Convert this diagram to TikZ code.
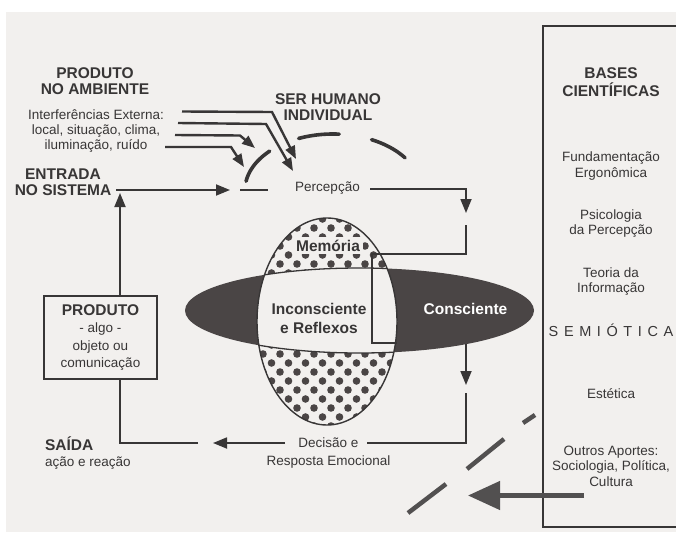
\documentclass[tikz,border=0pt]{standalone}
\usepackage{fontspec}
\setmainfont{Liberation Sans}
\usetikzlibrary{arrows.meta}

\definecolor{paper}{HTML}{F2F0EE}
\definecolor{ink}{HTML}{383636}
\definecolor{darkfill}{HTML}{4A4545}
\definecolor{slashgray}{HTML}{525050}

\begin{document}
\begin{tikzpicture}[x=1pt,y=-1pt,
  every node/.style={inner sep=0pt, outer sep=0pt, text=ink},
  txt/.style={font=\fontsize{13.5}{15.5}\selectfont, align=center},
  ttl/.style={font=\fontsize{15.5}{16.5}\selectfont\bfseries, align=center},
  conn/.style={draw=ink, line width=1.8pt},
  arr/.style={conn, -{Triangle[length=14pt,width=11pt]}},
  iarr/.style={draw=ink, line width=2.4pt, -{Triangle[length=13pt,width=10pt]}},
  arcdash/.style={draw=ink, line width=3.6pt, line cap=round},
  slash/.style={draw=slashgray, line width=4.5pt},
]
% page and paper
\useasboundingbox (0,0) rectangle (676,532);
\fill[white] (0,0) rectangle (676,532);
\fill[paper] (6,12) rectangle (676,532);

% ---------- central figure: conscious / unconscious ----------
\fill[darkfill] (359.5,310.5) ellipse [x radius=174.5, y radius=42.5];
\begin{scope}
  \clip (327,321.5) ellipse [x radius=70, y radius=103.5];
  \fill[paper] (250,210) rectangle (400,430);
  \foreach \j in {-17,...,7} {
    \foreach \i in {-3,...,9} {
      \fill[darkfill] ({271.5+17*\i+8.5*mod(abs(\j),2)},{363+9*\j}) circle (3.8);
    }
  }
  \fill[paper] (359.5,310.5) ellipse [x radius=174.5, y radius=42.5];
  \draw[ink, line width=1.3pt] (359.5,310.5) ellipse [x radius=174.5, y radius=42.5];
\end{scope}
\draw[ink, line width=1.4pt] (327,321.5) ellipse [x radius=70, y radius=103.5];

\node[ttl, fill=paper, inner xsep=3.5pt, inner ysep=2.5pt] (memoria) at (328,245.5) {Memória};
\node[ttl, font=\fontsize{15.5}{19}\selectfont\bfseries] (inconsc) at (319,318) {Inconsciente\\e Reflexos};
\node[ttl, text=white] (consc) at (465.5,308.5) {Consciente};

% ---------- left texts ----------
\node[ttl] (prodamb) at (95,81) {PRODUTO\\NO AMBIENTE};
\node[txt, font=\fontsize{13.5}{15}\selectfont] (interf) at (96,131) {Interferências Externa:\\local, situação, clima,\\iluminação, ruído};
\node[ttl, font=\fontsize{15.5}{16}\selectfont\bfseries] (entrada) at (63,182) {ENTRADA\\NO SISTEMA};
\node[ttl] (serhum) at (328,107) {SER HUMANO\\INDIVIDUAL};

\node[draw=ink, line width=1.6pt, minimum width=113pt, minimum height=83pt,
      txt, font=\fontsize{13.5}{17.5}\selectfont] (produto) at (100.5,337.5)
      {\textbf{\fontsize{15.5}{17.5}\selectfont PRODUTO}\\- algo -\\objeto ou\\comunicação};

\node[anchor=base west, font=\fontsize{15.5}{17}\selectfont\bfseries] (saida) at (45,450.5) {SAÍDA};
\node[anchor=base west, font=\fontsize{13.5}{16}\selectfont] (acao) at (45,466.5) {ação e reação};

\node[txt] (percep) at (327.5,188.5) {Percepção};
\node[txt, font=\fontsize{13.5}{18}\selectfont] (decisao) at (328.5,453) {Decisão e\\Resposta Emocional};

% ---------- right panel ----------
\draw[ink, line width=1.8pt] (682,26) -- (543,26) -- (543,527) -- (682,527);
\node[ttl, font=\fontsize{15.5}{18.5}\selectfont\bfseries] (bases) at (611,82) {BASES\\CIENTÍFICAS};
\node[txt] (fund) at (611,166) {Fundamentação\\Ergonômica};
\node[txt] (psico) at (611,223.5) {Psicologia\\da Percepção};
\node[txt] (teoria) at (611,281.5) {Teoria da\\Informação};
\node[font=\fontsize{14.5}{16}\selectfont] (semiot) at (611,330)
  {S\hspace{5.6pt}E\hspace{5.6pt}M\hspace{5.6pt}I\hspace{5.6pt}Ó\hspace{5.6pt}T\hspace{5.6pt}I\hspace{5.6pt}C\hspace{5.6pt}A};
\node[txt] (estet) at (611,394) {Estética};
\node[txt] (outros) at (611,466) {Outros Aportes:\\Sociologia, Política,\\Cultura};

% ---------- external interferences ----------
\coordinate (ia0) at (182,111.5); \coordinate (ia1) at (272,112); \coordinate (ia2) at (296,159);
\coordinate (ib0) at (178,123);   \coordinate (ib1) at (266,124); \coordinate (ib2) at (293,171);
\coordinate (ic0) at (175,135);   \coordinate (ic1) at (240,135.5); \coordinate (ic2) at (255,148);
\coordinate (id0) at (165,147);   \coordinate (id1) at (231,147); \coordinate (id2) at (244,167);
\draw[iarr] (ia0) -- (ia1) -- (ia2);
\draw[iarr] (ib0) -- (ib1) -- (ib2);
\draw[iarr] (ic0) -- (ic1) -- (ic2);
\draw[iarr] (id0) -- (id1) -- (id2);

% dashed boundary of the individual
\draw[arcdash] plot[domain=136:171, samples=30] ({333+88*cos(\x)},{190-56*sin(\x)});
\draw[arcdash] plot[domain=86:113, samples=30] ({333+88*cos(\x)},{190-56*sin(\x)});
\draw[arcdash] plot[domain=35:64, samples=30] ({333+88*cos(\x)},{190-56*sin(\x)});

% ---------- system loop ----------
\coordinate (up) at (120,193);
\draw[arr] (produto.north -| up) -- (up);
\coordinate (in0) at (116,190); \coordinate (in1) at (230,190);
\draw[arr] (in0) -- (in1);
\coordinate (gap0) at (240,190); \coordinate (gap1) at (268,190);
\draw[conn] (gap0) -- (gap1);

\coordinate (pr0) at (370,189); \coordinate (pr1) at (466,189); \coordinate (pr2) at (466,213);
\draw[arr] (pr0) -- (pr1) -- (pr2);

\coordinate (m0) at (466,225); \coordinate (m1) at (466,254);
\coordinate (m2) at (372,254); \coordinate (m3) at (372,343); \coordinate (m4) at (397,343);
\draw[conn, line width=1.5pt] (m0) -- (m1) -- (m2) -- (m3) -- (m4);

\coordinate (c0) at (466,344); \coordinate (c1) at (466,385);
\draw[arr] (c0) -- (c1);
\coordinate (d0) at (466,393); \coordinate (d1) at (466,443); \coordinate (d2) at (367,443);
\draw[conn] (d0) -- (d1) -- (d2);
\coordinate (e0) at (285,443); \coordinate (e1) at (213,443);
\draw[arr] (e0) -- (e1);
\coordinate (f0) at (198,443); \coordinate (f1) at (120,443);
\draw[conn] (f0) -- (f1) -- (produto.south -| f1);

% ---------- science input ----------
\draw[slash] (523,423) -- (535,415);
\draw[slash] (467,469) -- (504,439);
\draw[slash] (408,513) -- (446,484);
\coordinate (sci0) at (584,495.5); \coordinate (sci1) at (468,495.5);
\draw[draw=slashgray, line width=4.5pt, -{Triangle[length=32pt,width=28pt]}] (sci0) -- (sci1);
\end{tikzpicture}
\end{document}
